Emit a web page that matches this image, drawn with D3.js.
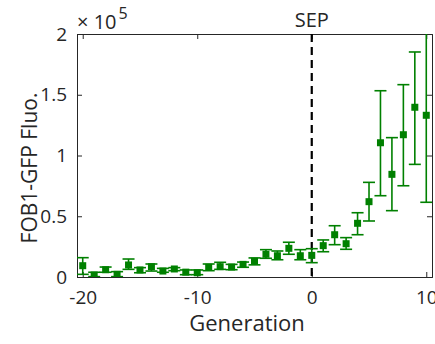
<!DOCTYPE html>
<html><head><meta charset="utf-8">
<script src="https://cdn.jsdelivr.net/npm/d3@7"></script>
<style>body{margin:0;background:#fff}svg{display:block}text{font-family:"Open Sans",sans-serif;fill:#262626}</style>
</head><body>
<script>
const generations = d3.range(-20, 11);
const fluo = [0.093,0.016,0.060,0.022,0.099,0.058,0.085,0.049,0.066,0.040,0.035,0.080,0.085,0.082,0.104,0.130,0.187,0.175,0.236,0.175,0.178,0.258,0.348,0.274,0.442,0.620,1.105,0.845,1.171,1.397,1.331];
const errLow = [0.022,0.003,0.039,0.003,0.063,0.035,0.049,0.039,0.052,0.019,0.019,0.052,0.063,0.060,0.080,0.100,0.154,0.142,0.187,0.142,0.118,0.208,0.266,0.228,0.348,0.461,0.669,0.546,0.751,0.927,0.615];
const errHigh = [0.159,0.039,0.082,0.044,0.148,0.077,0.107,0.071,0.077,0.058,0.058,0.107,0.121,0.104,0.123,0.157,0.225,0.214,0.286,0.225,0.233,0.305,0.422,0.324,0.529,0.779,1.533,1.147,1.583,1.852,2.047];
const xTicks = [-20,-10,0,10];
const yTicks = [0,0.5,1,1.5,2];
const yTickLabels = ["0","0.5","1","1.5","2"];

const W=435,H=344;
const L=77,R=432,T=34,B=277;
const svg=d3.select("body").append("svg").attr("width",W).attr("height",H);
const x=d3.scaleLinear().domain([-20.5,10.5]).range([L,R]);
const y=d3.scaleLinear().domain([0,2]).range([B,T]);
const axisCol="#262626";

svg.append("defs").append("clipPath").attr("id","clip").append("rect")
  .attr("x",L).attr("y",T).attr("width",R-L).attr("height",B-T);

// axes
const tl=5;
const gB=svg.append("g").attr("transform",`translate(0,${B})`)
  .call(d3.axisBottom(x).tickValues(xTicks).tickSize(-tl).tickPadding(10).tickFormat(d=>d<0?"-"+Math.abs(d):d));
const gT=svg.append("g").attr("transform",`translate(0,${T})`)
  .call(d3.axisTop(x).tickValues(xTicks).tickSize(-tl).tickFormat(""));
const gL=svg.append("g").attr("transform",`translate(${L},0)`)
  .call(d3.axisLeft(y).tickValues(yTicks).tickSize(-tl).tickPadding(10).tickFormat((d,i)=>yTickLabels[i]));
const gR=svg.append("g").attr("transform",`translate(${R},0)`)
  .call(d3.axisRight(y).tickValues(yTicks).tickSize(-tl).tickFormat(""));
[gB,gT,gL,gR].forEach(g=>{
  g.select(".domain").attr("stroke",axisCol).attr("stroke-width",1);
  g.selectAll(".tick line").attr("stroke",axisCol);
  g.selectAll(".tick text").style("font-size","19px").attr("fill",axisCol);
});
gB.selectAll(".tick text").attr("dy","0.9em");

// dashed line
svg.append("line").attr("x1",x(0)).attr("x2",x(0)).attr("y1",T).attr("y2",B)
  .attr("stroke","#000").attr("stroke-width",2.2).attr("stroke-dasharray","8,5");

// error bars
const green="#008000";
const plot=svg.append("g").attr("clip-path","url(#clip)");
const cap=6;
generations.forEach((g,i)=>{
  const cx=x(g);
  plot.append("line").attr("x1",cx).attr("x2",cx).attr("y1",y(errLow[i])).attr("y2",y(errHigh[i]))
    .attr("stroke",green).attr("stroke-width",1.6);
  [errLow[i],errHigh[i]].forEach(v=>{
    plot.append("line").attr("x1",cx-cap).attr("x2",cx+cap).attr("y1",y(v)).attr("y2",y(v))
      .attr("stroke",green).attr("stroke-width",1.6);
  });
});
const ms=7;
plot.selectAll("rect.m").data(generations).enter().append("rect").attr("class","m")
  .attr("x",d=>x(d)-ms/2).attr("y",(d,i)=>y(fluo[i])-ms/2).attr("width",ms).attr("height",ms)
  .attr("fill",green);

// texts
svg.append("text").attr("x",x(0)).attr("y",27).attr("text-anchor","middle").style("font-size","20px").text("SEP");
const ex=svg.append("text").attr("x",L).attr("y",29).style("font-size","20px");
ex.append("tspan").text("× 10");
ex.append("tspan").attr("dx",2).attr("dy",-10).style("font-size","16px").text("5");
svg.append("text").attr("x",247).attr("y",331).attr("text-anchor","middle").style("font-size","22px").text("Generation");
svg.append("text").attr("transform","translate(37,168) rotate(-90)").attr("text-anchor","middle").style("font-size","21px").text("FOB1-GFP Fluo.");
</script>
</body></html>
